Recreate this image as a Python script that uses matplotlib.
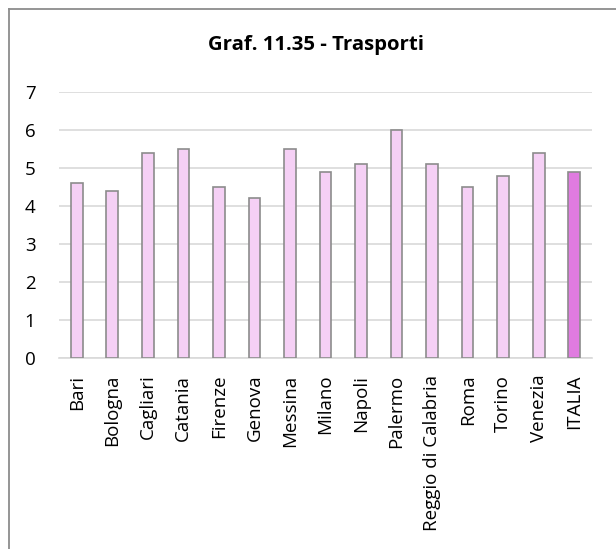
import matplotlib
matplotlib.use("Agg")
import matplotlib.pyplot as plt
from matplotlib.lines import Line2D

# Indicatori del settore trasporti per città
cities = ["Bari", "Bologna", "Cagliari", "Catania", "Firenze", "Genova",
          "Messina", "Milano", "Napoli", "Palermo", "Reggio di Calabria",
          "Roma", "Torino", "Venezia", "ITALIA"]
values = [4.6, 4.4, 5.4, 5.5, 4.5, 4.2, 5.5, 4.9, 5.1, 6.0, 5.1,
          4.5, 4.8, 5.4, 4.9]
y_ticks = [0, 1, 2, 3, 4, 5, 6, 7]
title = "Graf. 11.35 - Trasporti"

plt.rcParams["font.family"] = ["Open Sans", "DejaVu Sans"]

W, H = 616, 549
fig = plt.figure(figsize=(W / 100, H / 100), dpi=100)
fig.patch.set_facecolor("white")

# plot area in pixel coordinates
left, right, top, bottom = 59, 592, 92, 358
ax = fig.add_axes([left / W, 1 - bottom / H, (right - left) / W, (bottom - top) / H])

colors = ["#F5D0F5"] * (len(cities) - 1) + ["#E07BE0"]
x = range(len(cities))
ax.bar(x, values, width=0.33, color=colors, edgecolor="#8C8C8C",
       linewidth=1.2, zorder=3)

ax.set_xlim(-0.5, len(cities) - 0.5)
ax.set_ylim(0, 7)
ax.set_yticks(y_ticks)
ax.set_yticklabels([str(t) for t in y_ticks], fontsize=13.5)
ax.set_xticks(list(x))
ax.set_xticklabels(cities, rotation=90, fontsize=13.5)
ax.tick_params(axis="both", length=0, colors="black")
ax.tick_params(axis="y", pad=17)
ax.tick_params(axis="x", pad=12)

ax.grid(axis="y", color="#D9D9D9", linewidth=1.2, zorder=0)
for s in ["top", "right", "left"]:
    ax.spines[s].set_visible(False)
ax.spines["bottom"].set_color("#D9D9D9")
ax.spines["bottom"].set_linewidth(1.2)

fig.text(316 / W, 1 - 45 / H, title, ha="center",
         va="center", fontsize=14.7, fontweight="bold")

# chart frame (top and left edges)
fig.add_artist(Line2D([8.5 / W, 1.0], [1 - 9 / H, 1 - 9 / H],
                      color="#8C8C8C", linewidth=1.3, transform=fig.transFigure))
fig.add_artist(Line2D([8.5 / W, 8.5 / W], [0, 1 - 9 / H],
                      color="#8C8C8C", linewidth=1.3, transform=fig.transFigure))

fig.savefig("out.png", dpi=100, facecolor="white")
